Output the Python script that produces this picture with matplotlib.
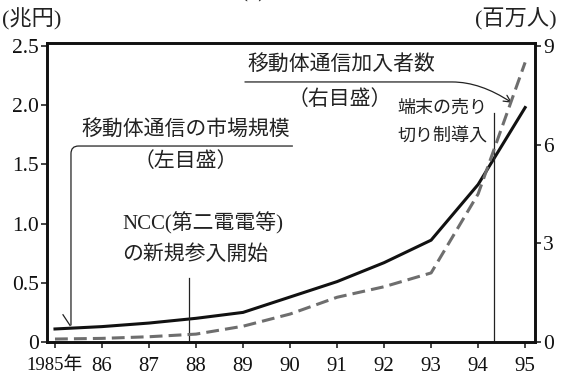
import matplotlib
matplotlib.use("Agg")
import matplotlib.pyplot as plt
from matplotlib.path import Path
from matplotlib.patches import FancyArrowPatch, PathPatch

plt.rcParams["font.family"] = ["Liberation Serif", "Noto Sans CJK JP", "DejaVu Sans"]

# 年度
years = [1985, 1986, 1987, 1988, 1989, 1990, 1991, 1992, 1993, 1994, 1995]
x_labels = ["1985年", "86", "87", "88", "89", "90", "91", "92", "93", "94", "95"]
# 移動体通信の市場規模（兆円, 左目盛）
market = [0.11, 0.13, 0.16, 0.20, 0.25, 0.38, 0.51, 0.67, 0.86, 1.33, 1.98]
# 移動体通信加入者数（百万人, 右目盛）
subscribers = [0.09, 0.11, 0.16, 0.24, 0.48, 0.85, 1.36, 1.68, 2.10, 4.50, 8.50]

left_ticks = [0, 0.5, 1.0, 1.5, 2.0, 2.5]
left_labels = ["0", "0.5", "1.0", "1.5", "2.0", "2.5"]
right_ticks = [0, 3, 6, 9]

W, H = 561, 377
fig = plt.figure(figsize=(W / 100, H / 100), dpi=100)
ax = fig.add_axes([47 / W, 35 / H, 488 / W, 299 / H])
ax2 = ax.twinx()

ax.set_xlim(1984.83, 1995.21)
ax.set_ylim(0, 2.525)
ax2.set_ylim(0, 2.525 * 3.6)

ax.plot(years, market, color="#111111", lw=2.2, solid_joinstyle="miter", zorder=5)
ax2.plot(years, subscribers, color="#6e6e6e", lw=2.2, ls=(0, (4.2, 2.0)), zorder=4)

ax.set_xticks(years)
ax.set_xticklabels(x_labels)
ax.set_yticks(left_ticks)
ax.set_yticklabels(left_labels)
ax2.set_yticks(right_ticks)
ax2.set_yticklabels([str(t) for t in right_ticks])

for a in (ax, ax2):
    for s in a.spines.values():
        s.set_linewidth(1.9)
        s.set_color("#111111")
    a.tick_params(direction="out", length=4, width=1.1, labelsize=15.5,
                  colors="#111111", pad=2)
ax.tick_params(axis="x", pad=7, labelsize=15)
first = ax.get_xticklabels()[0]
first.set_fontsize(13.5)

# 単位
fig.text(2 / W, 1 - 19 / H, "(兆円)", fontsize=16, va="center", ha="left", color="#222222")
fig.text(557 / W, 1 - 19 / H, "(百万人)", fontsize=16, va="center", ha="right", color="#222222")
fig.text(300 / W, 1 - 2 / H, "(1)  市場規模", fontsize=15, va="bottom", ha="center",
         color="#333333", fontweight="bold")

txt = dict(color="#222222", fontsize=15)

# 市場規模の注記
ax.text(1987.79, 1.79, "移動体通信の市場規模", ha="center", va="center", **txt)
ax.text(1987.77, 1.52, "（左目盛）", ha="center", va="center", **txt)
bracket = Path(
    [(1990.06, 1.655), (1985.50, 1.655), (1985.34, 1.655), (1985.34, 1.59), (1985.34, 0.14)],
    [Path.MOVETO, Path.LINETO, Path.CURVE3, Path.CURVE3, Path.LINETO],
)
ax.add_patch(PathPatch(bracket, fill=False, lw=0.9, color="#222222", zorder=6))
ax.plot([1985.17, 1985.32], [0.23, 0.14], color="#222222", lw=0.9, zorder=6)

# 加入者数の注記
ax.text(1991.09, 2.34, "移動体通信加入者数", ha="center", va="center", **txt)
ax.text(1991.06, 2.04, "（右目盛）", ha="center", va="center", **txt)
sub_path = Path(
    [(1989.04, 2.196), (1993.45, 2.196), (1994.05, 2.196), (1994.72, 2.02)],
    [Path.MOVETO, Path.LINETO, Path.CURVE3, Path.CURVE3],
)
ax.add_patch(FancyArrowPatch(path=sub_path, arrowstyle="->,head_length=5,head_width=2.5",
                             lw=0.9, color="#222222", zorder=6))

# NCC 参入
ax.text(1986.43, 1.005, "NCC(第二電電等)", ha="left", va="center", **txt)
ax.text(1986.43, 0.735, "の新規参入開始", ha="left", va="center", **txt)
ax.plot([1987.85, 1987.85], [0, 0.54], color="#222222", lw=0.9, zorder=6)

# 端末売り切り制
ax.text(1994.19, 1.976, "端末の売り", ha="right", va="center", color="#222222", fontsize=13)
ax.text(1994.19, 1.73, "切り制導入", ha="right", va="center", color="#222222", fontsize=13)
ax.plot([1994.34, 1994.34], [0, 1.93], color="#222222", lw=0.9, zorder=6)

fig.savefig("out.png", dpi=100)
